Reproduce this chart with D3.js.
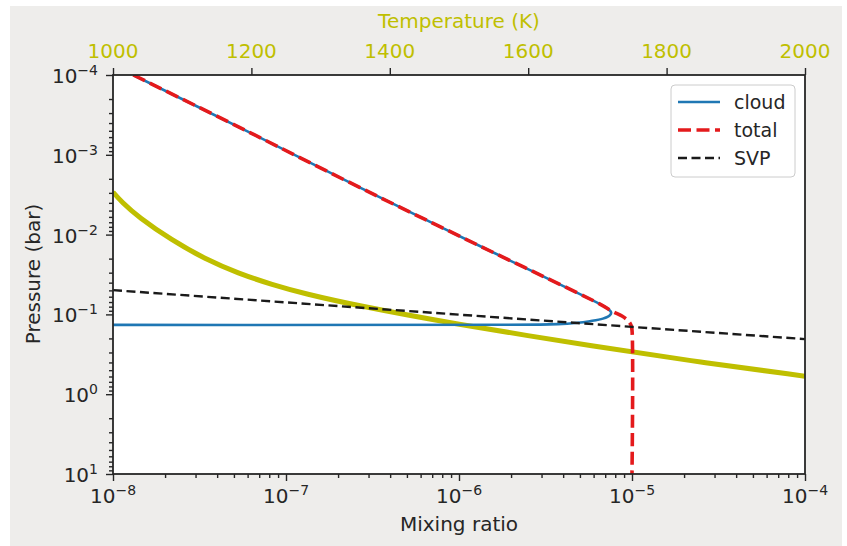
<!doctype html>
<html>
<head>
<style>
  body { margin: 0; background: #fff; }
  svg { font-family: "DejaVu Sans", sans-serif; }
  .tick-label { font-size: 20px; fill: #262626; }
  .axis path, .axis line { stroke: #262626; }
</style>
<script src="https://cdn.jsdelivr.net/npm/d3@7"></script>
</head>
<body>
<svg width="847" height="546"></svg>
<script>
// cloud condensate: mixing ratio vs pressure (bar)
var cloudMix = [1.31e-8, 5.79e-8, 2.68e-7, 1.32e-6, 6.53e-6, 7.17e-6, 7.57e-6, 7.46e-6, 6.79e-6, 5.71e-6, 4.69e-6, 3.73e-6, 2.94e-6, 1e-9];
var cloudP   = [1.0e-4, 4.90e-4, 2.58e-3, 1.39e-2, 7.43e-2, 8.35e-2, 9.38e-2, 0.102, 0.113, 0.1216, 0.128, 0.1324, 0.1344, 0.1344];

// total (vapour + cloud)
var totalMix = [1.31e-8, 5.79e-8, 2.68e-7, 1.32e-6, 6.53e-6, 7.65e-6, 8.75e-6, 9.48e-6, 9.87e-6, 1e-5, 1e-5];
var totalP   = [1.0e-4, 4.90e-4, 2.58e-3, 1.39e-2, 7.43e-2, 0.0910, 0.105, 0.1197, 0.1365, 0.157, 10];

// saturation vapour pressure curve
var svpMix = [1e-8, 1e-7, 1e-6, 1e-5, 1e-4];
var svpP   = [0.0497, 0.0707, 0.1007, 0.1434, 0.204];

// temperature profile (top axis)
var tempK = [1000, 1013, 1036, 1085, 1133, 1181, 1230, 1278, 1350, 1487, 1704, 1848, 2000];
var tempP = [2.93e-3, 3.95e-3, 5.95e-3, 1.18e-2, 2.02e-2, 3.06e-2, 4.24e-2, 5.54e-2, 7.66e-2, 0.129, 0.258, 0.397, 0.594];

var xMajor = [1e-8, 1e-7, 1e-6, 1e-5, 1e-4];
var yMajor = [1e-4, 1e-3, 1e-2, 1e-1, 1e0, 1e1];
var tTicks = [1000, 1200, 1400, 1600, 1800, 2000];

var svg = d3.select("svg");
var pl = 113, pr = 805, pt = 75, pb = 474;
var yellow = "#bfbf00";

svg.append("rect").attr("x", 10).attr("y", 6).attr("width", 832).attr("height", 540).attr("fill", "#eeedeb");
svg.append("rect").attr("x", pl).attr("y", pt).attr("width", pr - pl).attr("height", pb - pt).attr("fill", "#fff");

var x = d3.scaleLog().domain([1e-8, 1e-4]).range([pl, pr]);
var y = d3.scaleLog().domain([1e-4, 10]).range([pt, pb]);
var t = d3.scaleLinear().domain([1000, 2000]).range([pl, pr]);

function minors(lo, hi) {
    var out = [];
    for (var e = lo; e < hi; e++)
        for (var m = 2; m <= 9; m++) out.push(m * Math.pow(10, e));
    return out;
}

svg.append("defs").append("clipPath").attr("id", "clip")
   .append("rect").attr("x", pl).attr("y", pt).attr("width", pr - pl).attr("height", pb - pt);

var plot = svg.append("g").attr("clip-path", "url(#clip)");

function series(xs, ps) { return xs.map(function(v, i) { return [v, ps[i]]; }); }

var mixLine = d3.line().curve(d3.curveCatmullRom)
    .x(function(d) { return x(d[0]); }).y(function(d) { return y(d[1]); });

// temperature profile
plot.append("path")
    .datum(series(tempK, tempP))
    .attr("d", d3.line().curve(d3.curveBasis).x(function(d) { return t(d[0]); }).y(function(d) { return y(d[1]); }))
    .attr("fill", "none").attr("stroke", yellow).attr("stroke-width", 5);

plot.append("path")
    .datum(series(cloudMix, cloudP))
    .attr("d", mixLine)
    .attr("fill", "none").attr("stroke", "#1f77b4").attr("stroke-width", 2.6);

plot.append("path")
    .datum(series(totalMix, totalP))
    .attr("d", mixLine)
    .attr("fill", "none").attr("stroke", "#e41a1c").attr("stroke-width", 3.6)
    .attr("stroke-dasharray", "13,5.5");

plot.append("path")
    .datum(series(svpMix, svpP))
    .attr("d", d3.line().x(function(d) { return x(d[0]); }).y(function(d) { return y(d[1]); }))
    .attr("fill", "none").attr("stroke", "#1a1a1a").attr("stroke-width", 2.4)
    .attr("stroke-dasharray", "9,4.5");

// axes
var ax = svg.append("g").attr("class", "axis");

ax.append("g").attr("transform", "translate(0," + pb + ")")
  .call(d3.axisBottom(x).tickValues(minors(-8, -4)).tickSize(4).tickFormat(""));
ax.append("g").attr("transform", "translate(0," + pb + ")")
  .call(d3.axisBottom(x).tickValues(xMajor).tickSize(7).tickFormat(""));
ax.append("g").attr("transform", "translate(" + pl + ",0)")
  .call(d3.axisLeft(y).tickValues(minors(-4, 1)).tickSize(4).tickFormat(""));
ax.append("g").attr("transform", "translate(" + pl + ",0)")
  .call(d3.axisLeft(y).tickValues(yMajor).tickSize(7).tickFormat(""));
ax.append("g").attr("transform", "translate(0," + pt + ")")
  .call(d3.axisTop(t).tickValues(tTicks).tickSize(7).tickFormat(""));

ax.selectAll("path.domain").remove();
ax.selectAll("line").attr("stroke-width", 1.4);

svg.append("rect").attr("x", pl).attr("y", pt).attr("width", pr - pl).attr("height", pb - pt)
   .attr("fill", "none").attr("stroke", "#262626").attr("stroke-width", 1.8);

function powLabel(sel, v) {
    var e = Math.round(Math.log10(v));
    sel.append("tspan").text("10");
    sel.append("tspan").attr("dy", -8).attr("font-size", 14).text(e < 0 ? "\u2212" + (-e) : String(e));
}

xMajor.forEach(function(v) {
    var tx = svg.append("text").attr("class", "tick-label").attr("x", x(v)).attr("y", 503).attr("text-anchor", "middle");
    powLabel(tx, v);
});
yMajor.forEach(function(v) {
    var tx = svg.append("text").attr("class", "tick-label").attr("x", 98).attr("y", y(v) + 8).attr("text-anchor", "end");
    powLabel(tx, v);
});
tTicks.forEach(function(v) {
    svg.append("text").attr("class", "tick-label").attr("x", t(v)).attr("y", 58)
       .attr("text-anchor", "middle").style("fill", yellow).text(v);
});

svg.append("text").attr("x", 459).attr("y", 531).attr("text-anchor", "middle")
   .attr("font-size", 20).attr("fill", "#262626").text("Mixing ratio");
svg.append("text").attr("x", 459).attr("y", 28).attr("text-anchor", "middle")
   .attr("font-size", 20).attr("fill", yellow).text("Temperature (K)");
svg.append("text").attr("transform", "translate(40,274) rotate(-90)").attr("text-anchor", "middle")
   .attr("font-size", 20).attr("fill", "#262626").text("Pressure (bar)");

// legend
var legendNames = ["cloud", "total", "SVP"];
var legendColors = ["#1f77b4", "#e41a1c", "#1a1a1a"];
var legendDash = [null, "13,5.5", "9,4.5"];
var legendWidth = [2.6, 3.6, 2.4];

var lg = svg.append("g");
lg.append("rect").attr("x", 671).attr("y", 85).attr("width", 124).attr("height", 92).attr("rx", 4)
  .attr("fill", "#fff").attr("fill-opacity", 0.8).attr("stroke", "#cccccc");
legendNames.forEach(function(n, i) {
    var ly = 102 + i * 28;
    lg.append("line").attr("x1", 678).attr("x2", 720).attr("y1", ly).attr("y2", ly)
      .attr("stroke", legendColors[i]).attr("stroke-width", legendWidth[i])
      .attr("stroke-dasharray", legendDash[i]);
    lg.append("text").attr("x", 734).attr("y", ly + 7).attr("font-size", 19).attr("fill", "#262626").text(n);
});
</script>
</body>
</html>
